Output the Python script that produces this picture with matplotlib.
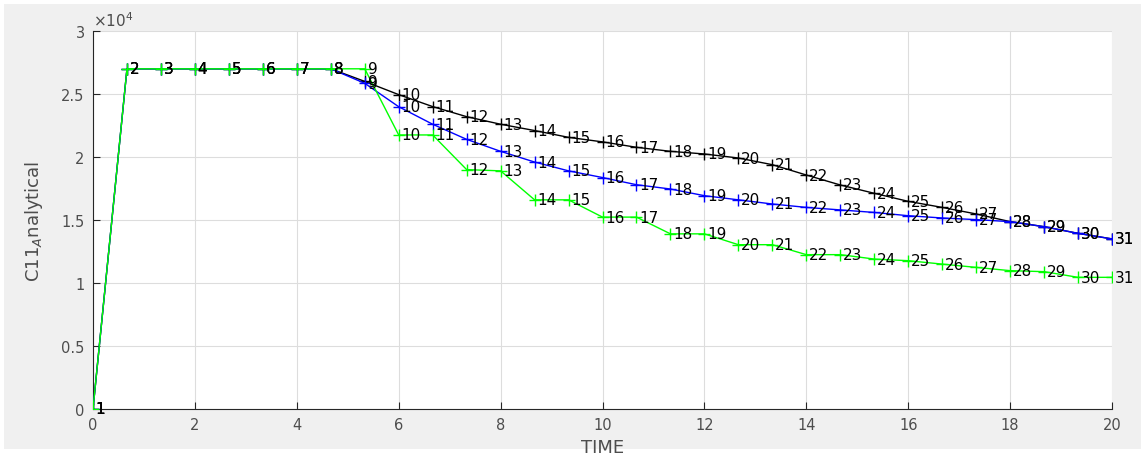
import matplotlib
matplotlib.use("Agg")
import matplotlib.pyplot as plt
from matplotlib.patches import Rectangle
from matplotlib.ticker import FuncFormatter, MultipleLocator
import numpy as np

# Data
time = [i * 20 / 30 for i in range(31)]
labels = [str(i + 1) for i in range(31)]

black_vals = [0, 27000, 27000, 27000, 27000, 27000, 27000, 27000, 26000,
              24950, 24000, 23200, 22600, 22100, 21560, 21200, 20770, 20450,
              20240, 19920, 19390, 18570, 17780, 17120, 16480, 16000, 15480,
              14870, 14470, 13940, 13500]
blue_vals = [0, 27000, 27000, 27000, 27000, 27000, 27000, 27000, 25850,
             23990, 22600, 21400, 20450, 19600, 18900, 18370, 17800, 17460,
             16930, 16600, 16270, 16000, 15800, 15600, 15340, 15160, 15030,
             14870, 14470, 13940, 13500]
green_vals = [0, 27000, 27000, 27000, 27000, 27000, 27000, 27000, 27000,
              21750, 21750, 19000, 18900, 16600, 16600, 15230, 15230, 13900,
              13900, 13040, 13040, 12250, 12250, 11900, 11770, 11500, 11240,
              10980, 10900, 10450, 10450]

W, H = 1141, 460
fig = plt.figure(figsize=(W / 100, H / 100), dpi=100, facecolor="white")
fig.add_artist(Rectangle((4 / W, (H - 450) / H), (W - 4) / W, (450 - 5) / H,
                         transform=fig.transFigure, facecolor="#f0f0f0",
                         edgecolor="none", zorder=-10))

ax = fig.add_axes([93 / W, (H - 410) / H, (1112 - 93) / W, (410 - 32) / H])
ax.set_zorder(1)
ax.set_facecolor("white")

series = [(black_vals, "black"), (blue_vals, "#0000ff"), (green_vals, "#00ff00")]
for vals, col in series:
    ax.plot(time, vals, color=col, lw=1.0, marker="+", markersize=8,
            markeredgewidth=1.0, zorder=3)
for vals, col in series:
    for t, v, lab in zip(time, vals, labels):
        ax.annotate(lab, (t, v), xytext=(2, 0), textcoords="offset points",
                    ha="left", va="center", fontsize=11, color="black",
                    fontfamily="DejaVu Sans", zorder=4, annotation_clip=False)

ax.set_xlim(0, 20)
ax.set_ylim(0, 30000)
ax.xaxis.set_major_locator(MultipleLocator(2))
ax.yaxis.set_major_locator(MultipleLocator(5000))
ax.yaxis.set_major_formatter(FuncFormatter(lambda v, p: f"{v/1e4:g}"))

ax.grid(True, color="#dddddd", lw=0.8, zorder=0)
ax.set_axisbelow(True)
for s in ["top", "right"]:
    ax.spines[s].set_visible(False)
for s in ["left", "bottom"]:
    ax.spines[s].set_color("#262626")
    ax.spines[s].set_linewidth(0.8)
ax.tick_params(direction="in", length=5, colors="#262626", labelsize=10.5,
               labelcolor="#4d4d4d", width=0.8, pad=6)

ax.set_xlabel("TIME", fontsize=13, color="#4d4d4d", labelpad=4)
ax.set_ylabel("C11$_A$nalytical", fontsize=13, color="#4d4d4d", labelpad=12)
ax.text(0.0, 1.005, r"$\times10^4$", transform=ax.transAxes, fontsize=11,
        color="#4d4d4d", ha="left", va="bottom")

fig.savefig("out.png", dpi=100, facecolor=fig.get_facecolor())
